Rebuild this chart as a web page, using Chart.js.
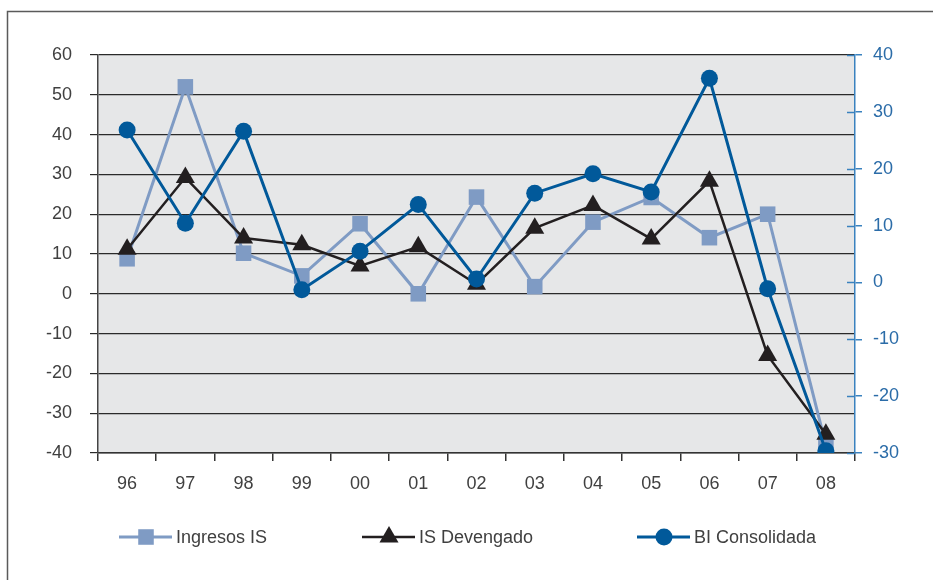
<!DOCTYPE html>
<html>
<head>
<meta charset="utf-8">
<script src="https://cdn.jsdelivr.net/npm/chart.js@4/dist/chart.umd.min.js"></script>
<style>
  html, body { margin: 0; padding: 0; background: #fff; }
  #wrap { width: 933px; height: 580px; position: relative; }
</style>
</head>
<body>
<div id="wrap"><canvas id="myChart" width="933" height="580"></canvas></div>
<script>
// Categorias (años)
const years = ['96', '97', '98', '99', '00', '01', '02', '03', '04', '05', '06', '07', '08'];

// Series (eje izquierdo)
const ingresosIS = [8.8, 52, 10.2, 4.5, 17.6, 0, 24.3, 1.8, 18, 24.2, 14.1, 20, -38];
const isDevengado = [11.2, 29.2, 14, 12.3, 7, 11.8, 2.4, 16.5, 22.2, 13.8, 28.3, -15.5, -35.3];
// Serie (eje derecho)
const biConsolidada = [26.8, 10.4, 26.6, -1.3, 5.5, 13.7, 0.6, 15.7, 19.1, 15.9, 35.9, -1.1, -29.6];

// Rangos de los ejes
const leftTicks = { min: -40, max: 60, step: 10 };
const rightTicks = { min: -30, max: 40, step: 10 };

// Colores
const colIngresos = '#7f9bc4';
const colDevengado = '#231f20';
const colBI = '#01599a';
const colRightAxis = '#3a82bf';
const colText = '#404040';

const fontBase = { family: '"Liberation Sans", Arial, sans-serif', size: 18 };

// Fondo gris del area de trazado + marco exterior
const backgroundPlugin = {
    id: 'background',
    beforeDraw(chart) {
        const { ctx, chartArea: a } = chart;
        ctx.save();
        ctx.fillStyle = '#e6e7e8';
        ctx.fillRect(a.left, a.top, a.right - a.left, a.bottom - a.top);
        ctx.strokeStyle = '#5a5a5a';
        ctx.lineWidth = 1.5;
        ctx.beginPath();
        ctx.moveTo(7.5, 590);
        ctx.lineTo(7.5, 11.5);
        ctx.lineTo(940, 11.5);
        ctx.stroke();
        ctx.restore();
    }
};

// Marcas interiores del eje derecho + leyenda
const extrasPlugin = {
    id: 'extras',
    afterDraw(chart) {
        const { ctx, chartArea: a } = chart;
        const y1 = chart.scales.y1;
        ctx.save();
        ctx.strokeStyle = colRightAxis;
        ctx.lineWidth = 1.5;
        y1.ticks.forEach(t => {
            const y = Math.round(y1.getPixelForValue(t.value)) + 0.5;
            ctx.beginPath();
            ctx.moveTo(a.right - 8, y);
            ctx.lineTo(a.right, y);
            ctx.stroke();
        });

        // leyenda
        const legendY = 537;
        const items = [
            { ds: 0, x: 119 },
            { ds: 1, x: 362 },
            { ds: 2, x: 637 },
        ];
        ctx.font = `${fontBase.size}px ${fontBase.family}`;
        ctx.textBaseline = 'middle';
        ctx.textAlign = 'left';
        items.forEach(it => {
            const ds = chart.data.datasets[it.ds];
            ctx.strokeStyle = ds.borderColor;
            ctx.lineWidth = ds.borderWidth;
            ctx.beginPath();
            ctx.moveTo(it.x, legendY);
            ctx.lineTo(it.x + 53, legendY);
            ctx.stroke();
            ctx.fillStyle = ds.pointBackgroundColor;
            ctx.strokeStyle = ds.pointBackgroundColor;
            Chart.helpers.drawPoint(ctx, {
                pointStyle: ds.pointStyle,
                radius: ds.pointRadius,
                rotation: 0,
                borderWidth: 0
            }, it.x + 27, legendY);
            ctx.fillStyle = colText;
            ctx.fillText(ds.label, it.x + 57, legendY + 1);
        });
        ctx.restore();
    }
};

const ctx = document.getElementById('myChart').getContext('2d');
const myChart = new Chart(ctx, {
    type: 'line',
    data: {
        labels: years,
        datasets: [
            {
                label: 'Ingresos IS',
                data: ingresosIS,
                yAxisID: 'y',
                borderColor: colIngresos,
                backgroundColor: colIngresos,
                pointBackgroundColor: colIngresos,
                pointBorderWidth: 0,
                borderWidth: 3,
                pointStyle: 'rect',
                pointRadius: 11,
                order: 3,
            },
            {
                label: 'IS Devengado',
                data: isDevengado,
                yAxisID: 'y',
                borderColor: colDevengado,
                backgroundColor: colDevengado,
                pointBackgroundColor: colDevengado,
                pointBorderWidth: 0,
                borderWidth: 2.5,
                pointStyle: 'triangle',
                pointRadius: 11,
                order: 2,
            },
            {
                label: 'BI Consolidada',
                data: biConsolidada,
                yAxisID: 'y1',
                borderColor: colBI,
                backgroundColor: colBI,
                pointBackgroundColor: colBI,
                pointBorderWidth: 0,
                borderWidth: 3,
                pointStyle: 'circle',
                pointRadius: 8.5,
                order: 1,
            },
        ],
    },
    options: {
        responsive: false,
        animation: false,
        layout: { padding: { top: 55, left: 0, right: 0, bottom: 0 } },
        plugins: {
            legend: { display: false },
            tooltip: { enabled: false },
        },
        scales: {
            x: {
                offset: true,
                afterFit(scale) { scale.height = 127; },
                grid: {
                    offset: true,
                    drawOnChartArea: false,
                    drawTicks: true,
                    tickLength: 8,
                    color: '#333',
                    lineWidth: 1.5,
                },
                border: { color: '#333', width: 1.5 },
                ticks: { color: colText, font: fontBase, padding: 12, maxRotation: 0 },
            },
            y: {
                position: 'left',
                min: leftTicks.min,
                max: leftTicks.max,
                afterFit(scale) { scale.width = 98; },
                grid: {
                    color: '#2a2a2a',
                    lineWidth: 1.2,
                    tickLength: 8,
                },
                border: { color: '#444', width: 1.5 },
                ticks: { stepSize: leftTicks.step, color: colText, font: fontBase, padding: 18 },
            },
            y1: {
                position: 'right',
                min: rightTicks.min,
                max: rightTicks.max,
                afterFit(scale) { scale.width = 78; },
                grid: {
                    drawOnChartArea: false,
                    color: colRightAxis,
                    lineWidth: 1.5,
                    tickLength: 7,
                },
                border: { color: colRightAxis, width: 1.5 },
                ticks: { stepSize: rightTicks.step, color: '#2b6ca8', font: fontBase, padding: 11 },
            },
        },
    },
    plugins: [backgroundPlugin, extrasPlugin],
});
</script>
</body>
</html>
